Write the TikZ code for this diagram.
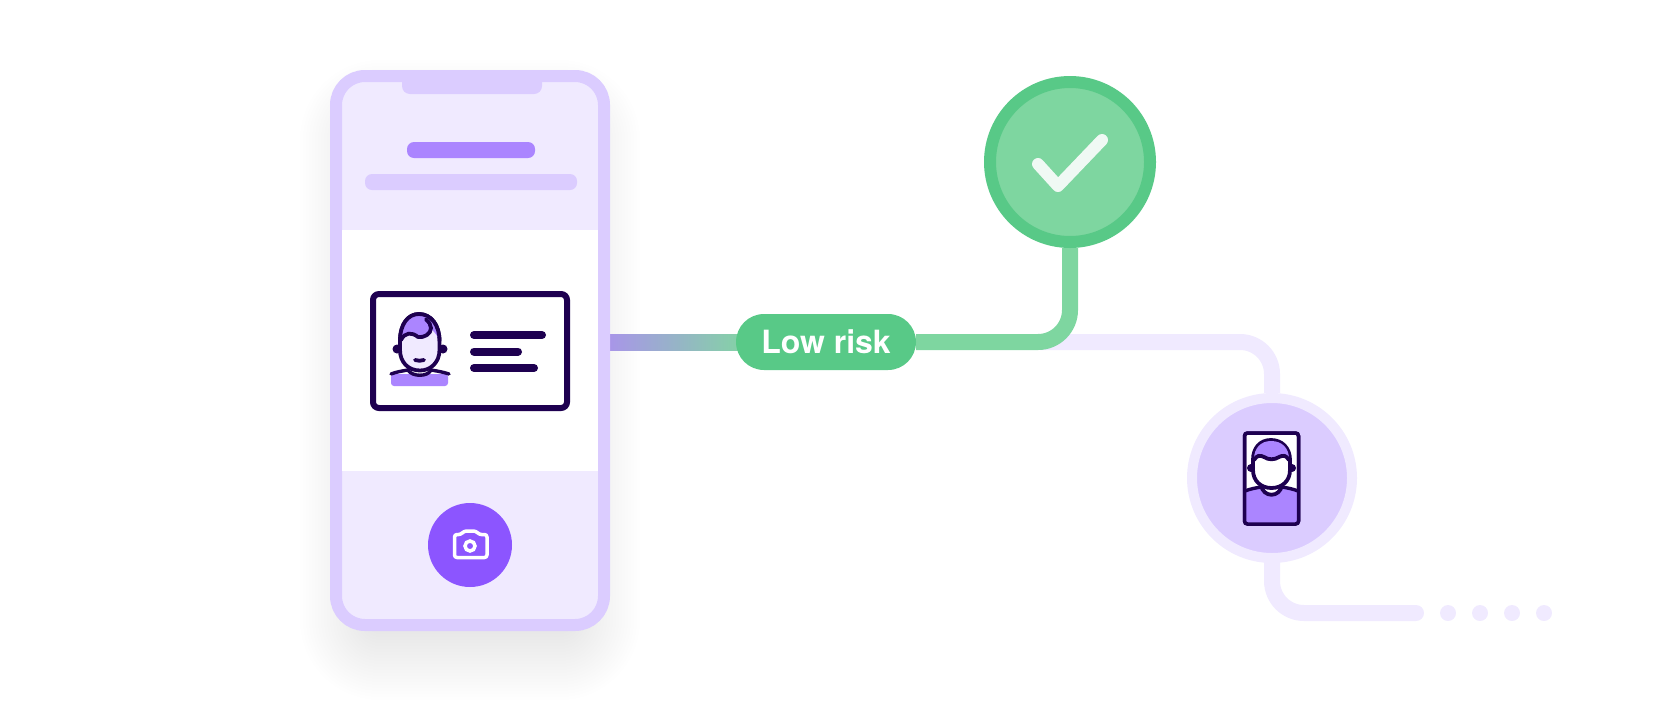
\documentclass[tikz,border=0pt]{standalone}
\usepackage{fontspec}
\usetikzlibrary{shapes.misc,backgrounds}
\newfontfamily\pillfont{TeX Gyre Heros}
\definecolor{framec}{HTML}{DBCCFF}
\definecolor{palec}{HTML}{F0EAFF}
\definecolor{midc}{HTML}{AB85FF}
\definecolor{deepc}{HTML}{8C55FF}
\definecolor{inkc}{HTML}{1E0050}
\definecolor{ringc}{HTML}{58C987}
\definecolor{softc}{HTML}{7ED6A0}
\definecolor{tickc}{HTML}{F0F9F4}
\definecolor{wirestart}{HTML}{A896E8}
\definecolor{wireend}{HTML}{84D2A6}
\tikzset{
  ink/.style={draw=inkc,line width=3.8pt,line cap=round,line join=round},
  wire/.style={line width=16pt,rounded corners=32pt},
  bar/.style={line width=8pt,draw=inkc,line cap=round},
  dotc/.style={circle,fill=palec,minimum size=16pt,inner sep=0pt},
  photo/.style={draw=inkc,line width=3.5pt,rounded corners=3pt,minimum width=54pt,minimum height=91pt,inner sep=0pt},
}
\begin{document}
\begin{tikzpicture}[x=1pt,y=-1pt]
\useasboundingbox (0,0) rectangle (1680,710);
% shadow
\begin{scope}[on background layer]
\foreach \e in {-40,-37,...,50} {
  \pgfmathsetmacro{\r}{max(10,30+\e)}
  \fill[black,opacity=0.0048,rounded corners=\r pt] (350-\e,110-\e) rectangle (590+\e,650+\e);
}
\end{scope}
% phone
\node[draw=framec,fill=palec,line width=12pt,rounded corners=29pt,minimum width=268pt,minimum height=549pt,inner sep=0pt] (phone) at (470,350.5) {};
\fill[white] (342,230) rectangle (598,471);
\fill[framec,rounded corners=8pt] (402,74) rectangle (542,94);
\fill[midc,rounded corners=7pt] (407,142) rectangle (535,158);
\fill[framec,rounded corners=7pt] (365,174) rectangle (577,190);
% card
\node[draw=inkc,fill=white,line width=6pt,rounded corners=6pt,minimum width=194pt,minimum height=114pt,inner sep=0pt] (card) at (470,351) {};
\fill[midc,rounded corners=3pt] (391,374) rectangle (448,386);
\draw[ink,fill=palec] (400,341) .. controls (400,324) and (408,314) .. (419,314) .. controls (431,314) and (439.5,325) .. (439.5,341) -- (439.5,350) .. controls (439.5,362) and (431,370.5) .. (420,370.5) .. controls (408,370.5) and (400,362) .. (400,350) -- cycle;
\fill[midc] (401,339) .. controls (401,324) and (408,315) .. (419,315) .. controls (431,315) and (438.5,325) .. (438.5,339) .. controls (436,333) and (433,331) .. (431,329) .. controls (430,335) and (422,338) .. (418,338) .. controls (413,333) and (405,331) .. (401,339) -- cycle;
\draw[ink] (401,340) .. controls (405,332) and (412,332) .. (418,337) .. controls (424,338) and (431,334) .. (431,328) .. controls (431,325) and (429,322) .. (426,319.5);
\draw[ink] (400,341) .. controls (400,324) and (408,314) .. (419,314) .. controls (431,314) and (439.5,325) .. (439.5,341);
\fill[inkc] (397,349) circle (4.5);
\fill[inkc] (443,349) circle (4.5);
\draw[ink] (415,360) .. controls (418,361) and (421,361) .. (424,360);
\draw[ink,line width=3.4pt] (391,374) .. controls (396,372) and (402,371) .. (408,370) .. controls (412,377) and (428,377) .. (431,370) .. controls (437,371) and (443,372) .. (449,374);
\draw[bar] (474,335) -- (542,335);
\draw[bar] (474,351.5) -- (518,351.5);
\draw[bar] (474,368) -- (534,368);
% camera
\node[circle,fill=deepc,minimum size=84pt,inner sep=0pt] (shutter) at (470,545) {};
\draw[white,line width=3.5pt,line join=round,rounded corners=2.5pt] (454.5,534.5) -- (461,534.5) -- (464,531) -- (476,531) -- (479,534.5) -- (487,534.5) -- (487,557.5) -- (454.5,557.5) -- cycle;
\draw[white,line width=3.5pt] (470,546) circle (5);
% nodes on the line
\node[circle,draw=ringc,fill=softc,line width=12pt,minimum size=160pt,inner sep=0pt] (check) at (1070,162) {};
\node[circle,draw=palec,fill=framec,line width=10pt,minimum size=160pt,inner sep=0pt] (avatar) at (1272,478) {};
\node[rounded rectangle,fill=ringc,minimum width=180pt,minimum height=56pt,inner sep=0pt,text=white,font=\pillfont\bfseries\fontsize{32}{32}\selectfont] (pill) at (826,342) {Low risk};
\coordinate (tail) at (1416,613);
\coordinate (bend) at (1040,342);
% wires
\begin{scope}[on background layer]
\shade[left color=wirestart,right color=wireend] ([yshift=8pt]phone.east |- pill) rectangle ([yshift=-8pt,xshift=6pt]pill.west);
\draw[wire,draw=palec] (bend) -| (avatar.north);
\draw[wire,draw=softc] (pill.east) -| (check.south);
\draw[wire,draw=palec,line cap=round] (avatar.south) |- (tail);
\end{scope}
\foreach \i/\xx in {1/1448,2/1480,3/1512,4/1544}
  \node[dotc] (dot\i) at (\xx,613) {};
% check mark
\draw[tickc,line width=12pt,line cap=round,line join=round] (1038,164) -- (1058,186) -- (1102,140);
% portrait
\node[photo,fill=white] (portrait) at (1271.5,478.5) {};
\fill[midc,rounded corners=3pt] (1244,491) .. controls (1250,489) and (1255,488) .. (1260,487) -- (1283,487) .. controls (1288,488) and (1294,489) .. (1299,491) -- (1299,524) -- (1244,524) -- cycle;
\draw[ink,fill=white] (1261,485) .. controls (1263,498) and (1280,498) .. (1282,485);
\draw[ink,fill=white] (1253,460) .. controls (1253,448) and (1260,440) .. (1271,440) .. controls (1282,440) and (1290,448) .. (1290,460) -- (1290,470) .. controls (1290,481) and (1282,488) .. (1271.5,488) .. controls (1261,488) and (1253,481) .. (1253,470) -- cycle;
\fill[midc] (1254,459) .. controls (1254,448) and (1261,441) .. (1271,441) .. controls (1282,441) and (1289,448) .. (1289,459) .. controls (1286,455) and (1283,455) .. (1279,457) .. controls (1275,460) and (1268,460) .. (1264,457) .. controls (1260,455) and (1257,455) .. (1254,459) -- cycle;
\draw[ink] (1254,460) .. controls (1257,455) and (1260,455) .. (1264,457) .. controls (1268,460) and (1275,460) .. (1279,457) .. controls (1283,455) and (1286,455) .. (1289,460);
\fill[inkc] (1251,468) circle (4);
\fill[inkc] (1292,468) circle (4);
\draw[ink,line width=3.4pt] (1245,491) .. controls (1250,489) and (1255,488) .. (1261,487);
\draw[ink,line width=3.4pt] (1282,487) .. controls (1288,488) and (1293,489) .. (1298,491);
\node[photo] (portraitedge) at (1271.5,478.5) {};
\end{tikzpicture}
\end{document}
